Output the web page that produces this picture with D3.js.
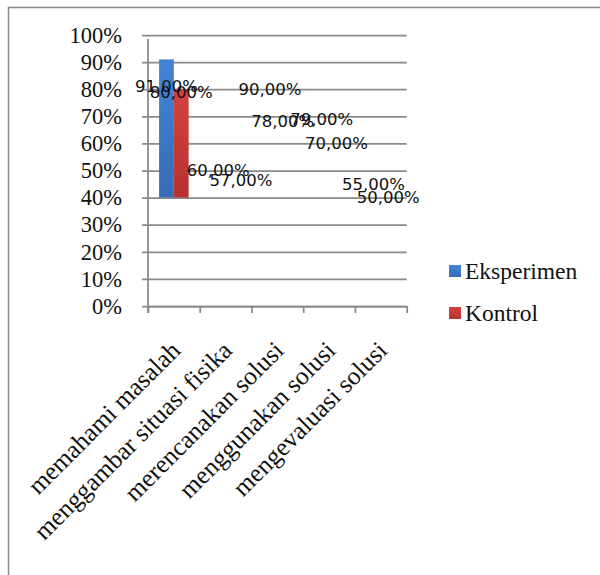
<!DOCTYPE html>
<html lang="en">
<head>
<meta charset="utf-8">
<script src="https://d3js.org/d3.v7.min.js"></script>
<style type="text/css">
body {
	margin: 0;
	background: #fff;
}
</style>
</head>
<body>
<script type="text/javascript">

// data
const categories = ['memahami masalah', 'menggambar situasi fisika', 'merencanakan solusi', 'menggunakan solusi', 'mengevaluasi solusi'];
const seriesNames = ['Eksperimen', 'Kontrol'];
const eksperimen = [0.91, 0.60, 0.90, 0.79, 0.55];
const kontrol = [0.80, 0.57, 0.78, 0.70, 0.50];
const yTicks = [0, 0.1, 0.2, 0.3, 0.4, 0.5, 0.6, 0.7, 0.8, 0.9, 1.0];

// only the first group shows its bars, and they float up from 40%
const barBase = 0.4;
const barsShownFor = ['memahami masalah'];

const width = 600;
const height = 575;

const colors = {Eksperimen: ['#4384d6', '#356cb6'], Kontrol: ['#d4423f', '#b53230']};
const serif = '"Liberation Serif", "Times New Roman", serif';

const svg = d3.select('body')
	.append('svg')
	.attr('width', width)
	.attr('height', height);

// gradients for the bars
const defs = svg.append('defs');
seriesNames.forEach(s => {
	const g = defs.append('linearGradient')
		.attr('id', 'grad-' + s)
		.attr('x1', 0).attr('y1', 0).attr('x2', 0).attr('y2', 1);
	g.append('stop').attr('offset', '0%').attr('stop-color', colors[s][0]);
	g.append('stop').attr('offset', '100%').attr('stop-color', colors[s][1]);
});

// frame (only top and left edges are inside the picture)
svg.append('path')
	.attr('d', 'M8.5,575V7.5H600')
	.style('fill', 'none')
	.style('stroke', '#8a8a8a')
	.style('stroke-width', 1.5);

const plot = {left: 148, right: 406.7, top: 35, bottom: 306};

const y = d3.scaleLinear()
	.domain([0, 1])
	.range([plot.bottom, plot.top]);

const x0 = d3.scaleBand()
	.domain(categories)
	.range([plot.left, plot.right])
	.paddingInner(0)
	.paddingOuter(0);

const x1 = d3.scaleBand()
	.domain(seriesNames)
	.range([0, x0.bandwidth()])
	.paddingInner(0)
	.paddingOuter(0.75);

// y axis with gridlines
const yAxis = svg.append('g')
	.attr('transform', 'translate(' + plot.left + ',0)')
	.call(d3.axisLeft(y)
		.tickValues(yTicks)
		.tickFormat(d3.format('.0%'))
		.tickSizeOuter(0));

yAxis.select('.domain').remove();
yAxis.selectAll('.tick line')
	.attr('x1', -6)
	.attr('x2', plot.right - plot.left)
	.style('stroke', '#8a8a8a')
	.style('stroke-width', 1.75);
yAxis.selectAll('.tick text')
	.attr('x', -26)
	.style('font-family', serif)
	.style('font-size', '22.5px')
	.style('fill', '#111');

svg.append('line')
	.attr('x1', plot.left).attr('x2', plot.left)
	.attr('y1', y(1) + 4).attr('y2', plot.bottom + 7)
	.style('stroke', '#8a8a8a')
	.style('stroke-width', 1.75);

// x axis: ticks sit on the group boundaries
const xEdge = d3.scaleLinear()
	.domain([0, categories.length])
	.range([plot.left, plot.right]);

const xAxis = svg.append('g')
	.attr('transform', 'translate(0,' + plot.bottom + ')')
	.call(d3.axisBottom(xEdge)
		.tickValues(d3.range(categories.length + 1))
		.tickFormat('')
		.tickSize(7)
		.tickSizeOuter(0));
xAxis.select('.domain')
	.style('stroke', '#8a8a8a')
	.style('stroke-width', 1.75);
xAxis.selectAll('.tick line')
	.style('stroke', '#8a8a8a')
	.style('stroke-width', 1.75);

// category labels, slanted
svg.append('g')
	.selectAll('text')
	.data(categories)
	.enter()
	.append('text')
	.attr('transform', d => 'translate(' + (x0(d) + x0.bandwidth() / 2 + 8) + ',' + (plot.bottom + 46) + ') rotate(-45)')
	.attr('text-anchor', 'end')
	.style('font-family', serif)
	.style('font-size', '25.5px')
	.style('fill', '#111')
	.text(d => d);

const rows = [];
categories.forEach((c, i) => {
	rows.push({cat: c, series: 'Eksperimen', value: eksperimen[i], idx: i});
	rows.push({cat: c, series: 'Kontrol', value: kontrol[i], idx: i});
});

// bars
svg.append('g')
	.selectAll('rect')
	.data(rows.filter(r => barsShownFor.includes(r.cat)))
	.enter()
	.append('rect')
	.attr('x', d => x0(d.cat) + x1(d.series))
	.attr('width', x1.bandwidth())
	.attr('y', d => y(d.value))
	.attr('height', d => y(barBase) - y(d.value))
	.style('fill', d => 'url(#grad-' + d.series + ')');

// value labels sit about ten points under their value
const labelDrop = {Eksperimen: [0.10, 0.10, 0.10, 0.10, 0.10], Kontrol: [0.01, 0.105, 0.10, 0.10, 0.10]};
const labelNudge = {Eksperimen: [0, 0, 0, 0, 0], Kontrol: [0, 8, -2, 0, 0]};
const fmt = v => d3.format('.2f')(v * 100).replace('.', ',') + '%';

svg.append('g')
	.selectAll('text')
	.data(rows)
	.enter()
	.append('text')
	.attr('x', d => x0(d.cat) + x1(d.series) + x1.bandwidth() / 2 + labelNudge[d.series][d.idx])
	.attr('y', d => y(d.value - labelDrop[d.series][d.idx]))
	.attr('dy', '0.35em')
	.attr('text-anchor', 'middle')
	.style('font-family', '"DejaVu Sans", sans-serif')
	.style('font-size', '16.5px')
	.style('fill', '#111')
	.text(d => fmt(d.value));

// legend
const legend = svg.append('g')
	.attr('transform', 'translate(449,265)');

const item = legend.selectAll('g')
	.data(seriesNames)
	.enter()
	.append('g')
	.attr('transform', (d, i) => 'translate(0,' + (i * 42) + ')');

item.append('rect')
	.attr('width', 12)
	.attr('height', 12)
	.style('fill', d => 'url(#grad-' + d + ')');

item.append('text')
	.attr('x', 16)
	.attr('y', 14)
	.style('font-family', serif)
	.style('font-size', '23.5px')
	.style('fill', '#111')
	.text(d => d);

</script>
</body>
</html>
